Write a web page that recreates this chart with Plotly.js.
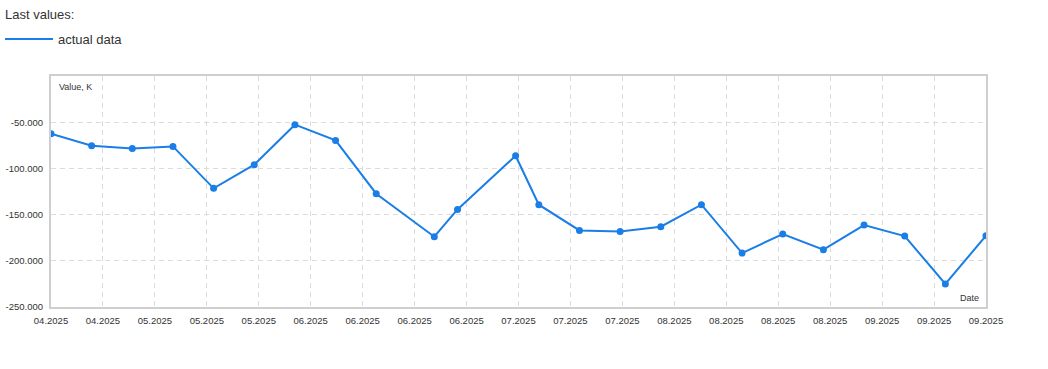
<!DOCTYPE html>
<html>
<head>
<meta charset="utf-8">
<script src="https://cdn.plot.ly/plotly-3.0.1.min.js"></script>
<style>
  html, body { margin: 0; padding: 0; background: #ffffff; }
  #chart { width: 1048px; height: 369px; }
</style>
</head>
<body>
<div id="chart"></div>
<script>
// ---- data ----
const dates = [
  "2025-04-18", "2025-04-25", "2025-05-02", "2025-05-09", "2025-05-16",
  "2025-05-23", "2025-05-30", "2025-06-06", "2025-06-13", "2025-06-23",
  "2025-06-27", "2025-07-07", "2025-07-11", "2025-07-18", "2025-07-25",
  "2025-08-01", "2025-08-08", "2025-08-15", "2025-08-22", "2025-08-29",
  "2025-09-05", "2025-09-12", "2025-09-19", "2025-09-26"
];
const actualValues = [
  -62.4, -75.4, -78.4, -76.2, -121.6,
  -96.0, -52.7, -69.7, -127.4, -173.9,
  -144.4, -86.3, -139.3, -167.1, -168.2,
  -163.1, -139.3, -191.6, -171.0, -188.0,
  -161.3, -173.2, -225.1, -172.8
];
const xTickLabels = [
  "04.2025", "04.2025", "05.2025", "05.2025", "05.2025", "06.2025", "06.2025",
  "06.2025", "06.2025", "07.2025", "07.2025", "07.2025", "08.2025", "08.2025",
  "08.2025", "08.2025", "09.2025", "09.2025", "09.2025"
];
const yTickValues = [-250, -200, -150, -100, -50];
const yTickLabels = ["-250.000", "-200.000", "-150.000", "-100.000", "-50.000"];
const seriesName = "actual data";
const legendTitle = "Last values:";
const yAxisLabel = "Value, K";
const xAxisLabel = "Date";

// ---- ticks evenly spread across the date range ----
const t0 = new Date(dates[0] + "T00:00:00Z").getTime();
const t1 = new Date(dates[dates.length - 1] + "T00:00:00Z").getTime();
const xTickVals = xTickLabels.map((_, i) => {
  const t = t0 + (t1 - t0) * i / (xTickLabels.length - 1);
  return new Date(t).toISOString().replace("T", " ").replace("Z", "");
});

const W = 1048, H = 369;
const M = { l: 51, r: 62, t: 76, b: 62 };
const plotW = W - M.l - M.r, plotH = H - M.t - M.b;

const blue = "#1a7ee6";
const font = "Liberation Sans, Arial, sans-serif";

const traces = [
  {
    x: dates, y: actualValues, type: "scatter", mode: "lines",
    name: seriesName, line: { color: blue, width: 2 },
    hoverinfo: "skip", showlegend: true
  },
  {
    x: dates, y: actualValues, type: "scatter", mode: "markers",
    name: seriesName, marker: { color: blue, size: 7 },
    showlegend: false
  }
];

const layout = {
  width: W, height: H,
  margin: { l: M.l, r: M.r, t: M.t, b: M.b, autoexpand: false },
  paper_bgcolor: "#ffffff", plot_bgcolor: "#ffffff",
  font: { family: font, color: "#333333", size: 9 },
  showlegend: true,
  legend: {
    xref: "container", yref: "container",
    x: 0, y: 1 - 24 / H, xanchor: "left", yanchor: "top",
    orientation: "v",
    itemwidth: 48,
    font: { family: font, size: 13, color: "#333333" },
    bgcolor: "rgba(0,0,0,0)"
  },
  xaxis: {
    type: "date", automargin: false,
    range: [xTickVals[0], xTickVals[xTickVals.length - 1]],
    tickmode: "array", tickvals: xTickVals, ticktext: xTickLabels,
    showgrid: true, gridcolor: "#dcdcdc", griddash: "5px,4px", gridwidth: 1,
    showline: true, linecolor: "#cfcfcf", linewidth: 2, mirror: true,
    zeroline: false, ticks: "", ticklabelstandoff: 4,
    tickfont: { family: font, size: 9.5, color: "#333333" },
    fixedrange: true
  },
  yaxis: {
    range: [-250, 0], automargin: false,
    tickmode: "array", tickvals: yTickValues, ticktext: yTickLabels,
    showgrid: true, gridcolor: "#dcdcdc", griddash: "5px,4px", gridwidth: 1,
    showline: true, linecolor: "#cfcfcf", linewidth: 2, mirror: true,
    zeroline: false, ticks: "", ticklabelstandoff: 4,
    tickfont: { family: font, size: 9.5, color: "#333333" },
    fixedrange: true
  },
  annotations: [
    {
      text: legendTitle, xref: "paper", yref: "paper",
      x: (3 - M.l) / plotW, y: 1 + (M.t - 14) / plotH,
      xanchor: "left", yanchor: "middle",
      showarrow: false, font: { family: font, size: 13, color: "#333333" }
    },
    {
      text: yAxisLabel, xref: "paper", yref: "paper", x: 0, y: 1,
      xanchor: "left", yanchor: "top", xshift: 6, yshift: -4,
      showarrow: false, font: { family: font, size: 9, color: "#333333" }
    },
    {
      text: xAxisLabel, xref: "paper", yref: "paper", x: 1, y: 0,
      xanchor: "right", yanchor: "bottom", xshift: -5, yshift: 2,
      showarrow: false, font: { family: font, size: 9, color: "#333333" }
    }
  ]
};

Plotly.newPlot("chart", traces, layout, { displayModeBar: false, staticPlot: true });
</script>
</body>
</html>
